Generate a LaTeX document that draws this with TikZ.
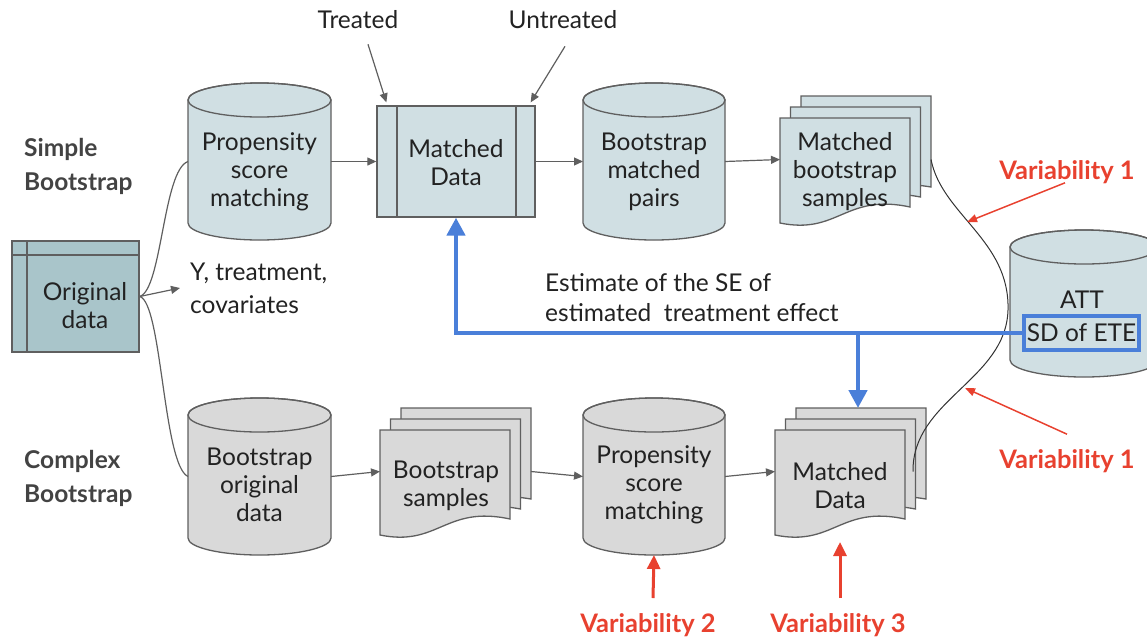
\documentclass[tikz,border=0pt]{standalone}
\usepackage{fontspec}
\setmainfont{Lato}
\usetikzlibrary{arrows.meta}
\definecolor{lb}{HTML}{D0DFE3}
\definecolor{tb}{HTML}{A9C5CA}
\definecolor{gf}{HTML}{D9D9D9}
\definecolor{ln}{HTML}{5F5F5F}
\definecolor{tx}{HTML}{222222}
\definecolor{lab}{HTML}{434343}
\definecolor{rd}{HTML}{E8412F}
\definecolor{bl}{HTML}{4A7FD9}
\tikzset{
  shp/.style={draw=ln, line width=1.3pt},
  bbox/.style={draw=none, inner sep=0pt, outer sep=0pt},
  txt/.style={align=center, font=\fontsize{24.5}{28}\selectfont, text=tx, inner sep=0pt},
  ltxt/.style={align=left, font=\fontsize{24.5}{30}\selectfont, text=tx, inner sep=0pt},
  lbl/.style={align=left, font=\fontsize{24.5}{34}\selectfont\bfseries, text=lab, inner sep=0pt},
  vlbl/.style={font=\fontsize{25.5}{28}\selectfont\bfseries, text=rd, inner sep=0pt},
  arr/.style={draw=ln, line width=1.2pt, -{Triangle[length=9pt,width=8pt]}},
  conn/.style={draw=ln, line width=1.2pt},
  rarr/.style={draw=rd, line width=1.5pt, -{Triangle[length=10pt,width=8pt]}},
  rarrb/.style={draw=rd, line width=3pt, -{Triangle[length=14pt,width=13pt]}},
  barr/.style={draw=bl, line width=4.5pt, -{Triangle[length=18pt,width=18pt]}},
}
% cylinder: name, L, R, T, B, fill
\newcommand\mkcyl[6]{%
  \pgfmathsetmacro\cx{(#2+#3)/2}\pgfmathsetmacro\rx{(#3-#2)/2}%
  \node[bbox, minimum width={(#3-#2)*1pt}, minimum height={(#5-#4)*1pt}] (#1) at ({\cx},{(#4+#5)/2}) {};
  \draw[shp, fill=#6] (#2,#4+17) -- (#2,#5-17) arc[start angle=180,end angle=0,x radius=\rx,y radius=17] -- (#3,#4+17) arc[start angle=0,end angle=-180,x radius=\rx,y radius=17] -- cycle;
  \draw[shp] (\cx,#4+17) ellipse[x radius=\rx, y radius=17];
}
% single document: L, R, T, B(left bottom), fill
\newcommand\mkdoc[5]{%
  \draw[shp, fill=#5] (#1,#3) -- (#2,#3) -- (#2,#4-16) .. controls ({#2-0.5*(#2-#1)},#4-30) and ({#1+0.45*(#2-#1)},#4+12) .. (#1,#4) -- cycle;
}
% multi document: name, L(front), T(front), B(front), fill
\newcommand\mkmdoc[5]{%
  \node[bbox, minimum width=151pt, minimum height={(#4-#3+22)*1pt}] (#1) at ({#2+75.5},{(#3-22+#4)/2}) {};
  \mkdoc{#2+21}{#2+151}{#3-22}{#4-20}{#5}
  \mkdoc{#2+10.5}{#2+140.5}{#3-11}{#4-10}{#5}
  \mkdoc{#2}{#2+130}{#3}{#4}{#5}
}
\begin{document}
\begin{tikzpicture}[x=1pt,y=-1pt]
\useasboundingbox (0,0) rectangle (1147,638);
\clip (0,0) rectangle (1147,638);

% labels left
\node[lbl, anchor=north west] (sb) at (24,138) {Simple\\Bootstrap};
\node[lbl, anchor=north west] (cb) at (24,450) {Complex\\Bootstrap};

% original data
\node[draw=ln, line width=1.3pt, fill=tb, minimum width=127pt, minimum height=111pt, inner sep=0pt] (od) at (75.5,296.5) {};
\draw[shp] (od.north west |- 0,255) -- (od.north east |- 0,255);
\draw[shp] (27,241) -- (27,352);
\node[txt] (odt) at (85,306) {Original\\data};

% top row
\mkcyl{psm}{188}{331}{83}{240}{lb}
\node[txt] (psmt) at (259.5,172) {Propensity\\score\\matching};

\node[draw=ln, line width=1.3pt, fill=lb, minimum width=158pt, minimum height=111pt, inner sep=0pt] (md) at (456,161.5) {};
\draw[shp] (397,106) -- (397,217);
\draw[shp] (516,106) -- (516,217);
\node[txt] (mdt) at (456,163) {Matched\\Data};

\mkcyl{bmp}{583}{725}{83}{240}{lb}
\node[txt] (bmpt) at (654,172) {Bootstrap\\matched\\pairs};

\mkmdoc{mbs}{780}{118}{223}{lb}
\node[txt] (mbst) at (845,172) {Matched\\bootstrap\\samples};

% bottom row
\mkcyl{bod}{188}{331}{398}{555}{gf}
\node[txt] (bodt) at (259.5,485) {Bootstrap\\original\\data};

\mkmdoc{bs}{380}{430}{535}{gf}
\node[txt] (bst) at (446,486) {Bootstrap\\samples};

\mkcyl{psm2}{583}{725}{398}{555}{gf}
\node[txt] (psm2t) at (654,485) {Propensity\\score\\matching};

\mkmdoc{mdb}{775}{430}{535}{gf}
\node[txt] (mdbt) at (840,486) {Matched\\Data};

% ATT cylinder
\mkcyl{att}{1010}{1158}{230}{377}{lb}
\node[txt] (attt) at (1082,300) {ATT};
\node[draw=bl, line width=4pt, minimum width=115pt, minimum height=34pt, inner sep=0pt, font=\fontsize{24.5}{28}\selectfont, text=tx] (sd) at (1081.5,333) {SD of ETE};

% text labels
\node[ltxt, font=\fontsize{24.5}{33}\selectfont, anchor=west] (ytc) at (190,288) {Y, treatment,\\covariates};
\node[txt] (tr) at (358,20) {Treated};
\node[txt] (ut) at (563,20) {Untreated};
\node[ltxt, anchor=west] (est) at (545,298) {Estimate of the SE of\\estimated\ \ treatment effect};

% connectors from original data
\draw[conn] (od.east) .. controls (162,290) and (163,170) .. (psm.west);
\draw[conn] (od.east) .. controls (162,302) and (163,465) .. (bod.west);
\draw[arr] (od.east) -- ([xshift=-10pt]ytc.west);

% top flow
\draw[arr] (psm.east) -- (md.west);
\draw[arr] (md.east) -- (bmp.west);
\draw[arr] (bmp.east) -- (mbs.west);

% bottom flow
\draw[arr] (bod.east) -- (bs.west);
\draw[arr] (bs.east) -- (psm2.west);
\draw[arr] (psm2.east) -- (mdb.west);

% treated / untreated
\draw[arr] ([xshift=10pt,yshift=-15pt]tr.south) -- ([xshift=10pt,yshift=3pt]md.north west);
\draw[arr] ([xshift=2pt,yshift=-17pt]ut.south) -- ([xshift=-5pt,yshift=3pt]md.north east);

% S curve
\draw[conn, line width=1pt, draw=black!80] (mbs.east) .. controls (942,215) and (1010,240) .. (1008,310) .. controls (1006,380) and (912,400) .. ([xshift=-13pt]mdb.east);

% blue lines
\coordinate (bj) at (858,333);
\draw[barr] (sd.west) -| (md.south);
\draw[barr] (bj) -- (bj |- mdb.north);

% variability
\node[vlbl] (v1a) at (1067,172) {Variability 1};
\node[vlbl] (v1b) at (1067,461) {Variability 1};
\node[vlbl] (v2) at (648,625) {Variability 2};
\node[vlbl] (v3) at (838,625) {Variability 3};
\draw[rarr] ([xshift=-2pt,yshift=1pt]v1a.south) -- (967,222);
\draw[rarr] ([yshift=15pt]v1b.north) -- (965,388);
\draw[rarrb] (653,598) -- (psm2.south);
\draw[rarrb] (840,598) -- (840,542);
\end{tikzpicture}
\end{document}
